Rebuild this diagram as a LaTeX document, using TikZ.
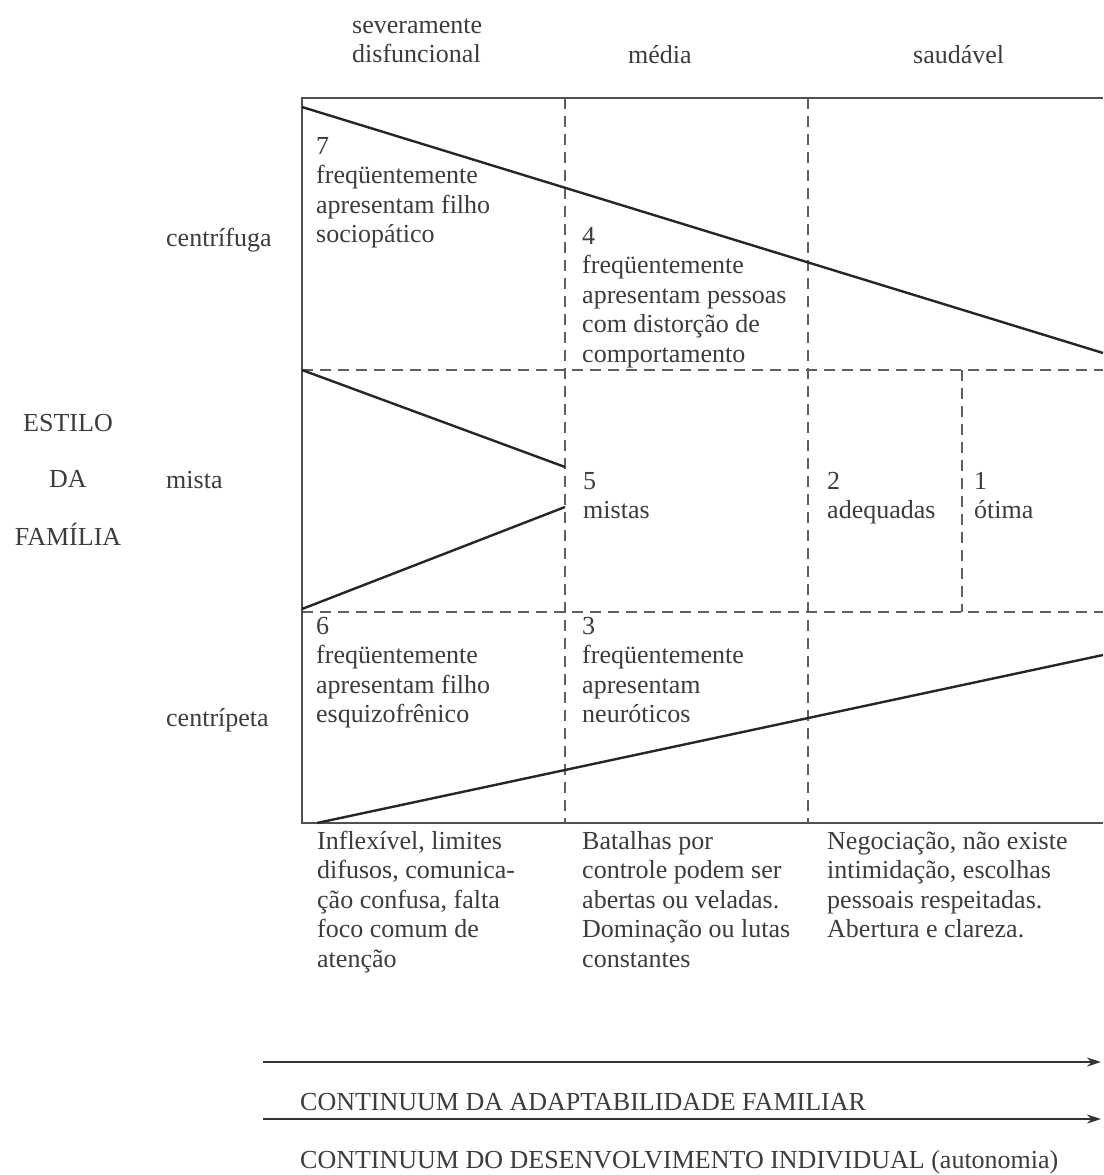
\documentclass[tikz,border=0pt]{standalone}
\usepackage{fontspec}
\setmainfont{Liberation Serif}
\usetikzlibrary{arrows.meta}
\definecolor{ink}{RGB}{60,60,60}
\definecolor{framec}{RGB}{80,80,80}
\definecolor{dashc}{RGB}{95,95,95}
\newcommand\fst{\rule{0pt}{24pt}}
\begin{document}
\begin{tikzpicture}[x=1pt,y=-1pt,
  txt/.style={anchor=north west,inner sep=0pt,align=left,text=ink,font=\fontsize{26}{29.5}\selectfont},
  ctxt/.style={txt,anchor=north,align=center},
  frameline/.style={draw=framec,line width=1.8pt},
  gridline/.style={draw=dashc,line width=1.5pt,dash pattern=on 11pt off 7pt},
  diag/.style={draw=black!85,line width=2.4pt},
  axisarrow/.style={draw=black!80,line width=2pt,-{Stealth[length=14pt,width=9pt]}}]
\useasboundingbox (0,0) rectangle (1103,1175);
\fill[white] (0,0) rectangle (1103,1175);
% frame corners
\coordinate (TL) at (302,98);
\coordinate (TR) at (1103,98);
\coordinate (BL) at (302,823);
\coordinate (BR) at (1103,823);
% grid
\coordinate (V1t) at (565,98);  \coordinate (V1b) at (565,823);
\coordinate (V2t) at (808,98);  \coordinate (V2b) at (808,823);
\coordinate (V3t) at (962,370); \coordinate (V3b) at (962,612);
\coordinate (H1l) at (302,370); \coordinate (H1r) at (1103,370);
\coordinate (H2l) at (302,612); \coordinate (H2r) at (1103,612);
\draw[gridline] (V1t) -- (V1b);
\draw[gridline] (V2t) -- (V2b);
\draw[gridline] (V3t) -- (V3b);
\draw[gridline] (H1l) -- (H1r);
\draw[gridline] (H2l) -- (H2r);
\draw[frameline] (TR) -- (TL) -- (BL) -- (BR);
% diagonals
\coordinate (D1a) at (302,107); \coordinate (D1b) at (1103,353);
\coordinate (D2a) at (302,370); \coordinate (D2b) at (565,467);
\coordinate (D3a) at (302,609); \coordinate (D3b) at (565,507);
\coordinate (D4a) at (317,823); \coordinate (D4b) at (1103,655);
\draw[diag] (D1a) -- (D1b);
\draw[diag] (D2a) -- (D2b);
\draw[diag] (D3a) -- (D3b);
\draw[diag] (D4a) -- (D4b);
% column headers
\node[txt] (hsev) at (352,9) {\fst severamente\\disfuncional};
\node[txt] (hmed) at (628,39) {\fst média};
\node[txt] (hsau) at (913,39) {\fst saudável};
% row labels
\node[txt] (rcf) at (166,222) {\fst centrífuga};
\node[txt] (rmi) at (166,464) {\fst mista};
\node[txt] (rcp) at (166,702) {\fst centrípeta};
\node[ctxt] (est) at (68,407) {\fst ESTILO};
\node[ctxt] (da) at (68,463) {\fst DA};
\node[ctxt] (fam) at (68,521) {\fst FAMÍLIA};
% cells
\node[txt] (c7) at (316,130) {\fst 7\\freqüentemente\\apresentam filho\\sociopático};
\node[txt] (c4) at (582,220) {\fst 4\\freqüentemente\\apresentam pessoas\\com distorção de\\comportamento};
\node[txt] (c5) at (583,465) {\fst 5\\mistas};
\node[txt] (c2) at (827,465) {\fst 2\\adequadas};
\node[txt] (c1) at (974,465) {\fst 1\\ótima};
\node[txt] (c6) at (316,610) {\fst 6\\freqüentemente\\apresentam filho\\esquizofrênico};
\node[txt] (c3) at (582,610) {\fst 3\\freqüentemente\\apresentam\\neuróticos};
% bottom descriptions
\node[txt] (b1) at (317,825) {\fst Inflexível, limites\\difusos, comunica-\\ção confusa, falta\\foco comum de\\atenção};
\node[txt] (b2) at (582,825) {\fst Batalhas por\\controle podem ser\\abertas ou veladas.\\Dominação ou lutas\\constantes};
\node[txt] (b3) at (827,825) {\fst Negociação, não existe\\intimidação, escolhas\\pessoais respeitadas.\\Abertura e clareza.};
% continua
\coordinate (A1s) at (263,1062); \coordinate (A1e) at (1101,1062);
\coordinate (A2s) at (263,1119); \coordinate (A2e) at (1101,1119);
\draw[axisarrow] (A1s) -- (A1e);
\draw[axisarrow] (A2s) -- (A2e);
\node[txt] (t1) at (300,1086) {\fst CONTINUUM DA ADAPTABILIDADE FAMILIAR};
\node[txt] (t2) at (300,1144) {\fst CONTINUUM DO DESENVOLVIMENTO INDIVIDUAL (autonomia)};
\end{tikzpicture}
\end{document}
